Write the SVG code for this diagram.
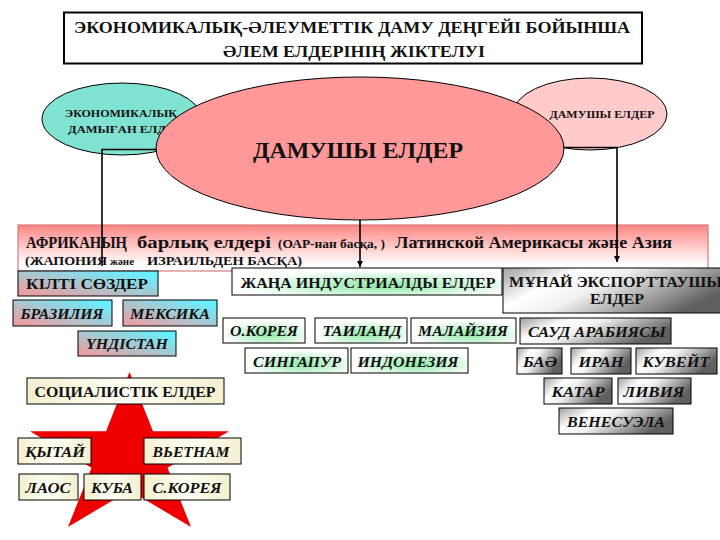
<svg xmlns="http://www.w3.org/2000/svg" width="720" height="540" viewBox="0 0 720 540" font-family="'Liberation Serif', 'Times New Roman', 'DejaVu Serif', serif">
<defs>
<style>
text{font-weight:bold;fill:#111}
.it{font-style:italic;font-size:15px}
.box{stroke:#000;stroke-width:1}
.pc{fill:url(#gPC)}
.gr{fill:url(#gGreen)}
.gy{fill:url(#gGray)}
.cr{fill:url(#gCream)}
.conn{fill:none;stroke:#000;stroke-width:1.6}
</style>
<linearGradient id="gAfr" x1="0" y1="0" x2="0" y2="1">
<stop offset="0" stop-color="#ff8585"/><stop offset="0.85" stop-color="#ffffff"/>
</linearGradient>
<linearGradient id="gPC" x1="0" y1="1" x2="1" y2="0">
<stop offset="0.1" stop-color="#e8a0a4"/><stop offset="0.9" stop-color="#66f0ff"/>
</linearGradient>
<radialGradient id="gGreen" cx="0.55" cy="0.65" r="0.55">
<stop offset="0" stop-color="#8ee8a8"/><stop offset="1" stop-color="#ffffff"/>
</radialGradient>
<linearGradient id="gGray" x1="0" y1="0" x2="1" y2="0.4">
<stop offset="0" stop-color="#a0a0a0"/><stop offset="0.3" stop-color="#ffffff"/><stop offset="0.5" stop-color="#f0f0f0"/><stop offset="1" stop-color="#606060"/>
</linearGradient>
<linearGradient id="gCream" x1="0" y1="0" x2="1" y2="0">
<stop offset="0" stop-color="#f3efcf"/><stop offset="0.5" stop-color="#fffff4"/><stop offset="1" stop-color="#f3efcf"/>
</linearGradient>
<marker id="arr" viewBox="0 0 10 10" refX="10" refY="5" markerWidth="4" markerHeight="4" orient="auto">
<path d="M0,0 L10,5 L0,10 z" fill="#000"/>
</marker>
</defs>
<rect width="720" height="540" fill="#fff"/>

<g id="title">
<rect x="64" y="12.5" width="578" height="51" fill="#fff" stroke="#000" stroke-width="2"/>
<text x="352" y="33" font-size="16" text-anchor="middle" textLength="556" lengthAdjust="spacingAndGlyphs">ЭКОНОМИКАЛЫҚ-ӘЛЕУМЕТТІК ДАМУ ДЕҢГЕЙІ БОЙЫНША</text>
<text x="354" y="57" font-size="16" text-anchor="middle" textLength="262" lengthAdjust="spacingAndGlyphs">ӘЛЕМ ЕЛДЕРІНІҢ ЖІКТЕЛУІ</text>
</g>

<g id="developed">
<ellipse cx="122" cy="119" rx="80" ry="36" fill="#80e2d0" stroke="#000" stroke-width="1"/>
<text x="121" y="117" font-size="11" text-anchor="middle" textLength="112" lengthAdjust="spacingAndGlyphs">ЭКОНОМИКАЛЫҚ</text>
<text x="125" y="133" font-size="11" text-anchor="middle" textLength="114" lengthAdjust="spacingAndGlyphs">ДАМЫҒАН ЕЛДЕР</text>
</g>

<g id="developing-small">
<ellipse cx="590" cy="114" rx="77" ry="36" fill="#ffcaca" stroke="#000" stroke-width="1"/>
<text x="602" y="118" font-size="11" text-anchor="middle" textLength="105" lengthAdjust="spacingAndGlyphs">ДАМУШЫ ЕЛДЕР</text>
</g>

<g id="developing">
<ellipse cx="360" cy="148.5" rx="204" ry="71.5" fill="#ff9898" stroke="#000" stroke-width="1"/>
<text x="358" y="158" font-size="24" text-anchor="middle" textLength="210" lengthAdjust="spacingAndGlyphs">ДАМУШЫ ЕЛДЕР</text>
</g>

<g id="africa">
<rect x="18" y="225" width="690" height="46" fill="url(#gAfr)" stroke="#d06464" stroke-width="1"/>
<text x="26" y="248" font-size="17" textLength="101" lengthAdjust="spacingAndGlyphs">АФРИКАНЫҢ</text>
<text x="137" y="248" font-size="16" textLength="134" lengthAdjust="spacingAndGlyphs">барлық елдері</text>
<text x="278" y="248" font-size="12" textLength="107" lengthAdjust="spacingAndGlyphs">(ОАР-нан басқа, )</text>
<text x="395" y="248" font-size="17" textLength="277" lengthAdjust="spacingAndGlyphs">Латинской Америкасы және Азия</text>
<text x="25" y="265" font-size="12" textLength="82" lengthAdjust="spacingAndGlyphs">(ЖАПОНИЯ</text>
<text x="110" y="265" font-size="10" textLength="24" lengthAdjust="spacingAndGlyphs">және</text>
<text x="147" y="265" font-size="12" textLength="155" lengthAdjust="spacingAndGlyphs">ИЗРАИЛЬДЕН БАСҚА)</text>
</g>

<g id="keywords">
<rect class="box pc" x="18" y="271" width="140" height="25"/>
<text x="87" y="289" font-size="15" text-anchor="middle" textLength="122" lengthAdjust="spacingAndGlyphs">КІЛТІ СӨЗДЕР</text>
</g>
<g id="brazil">
<rect class="box pc" x="13" y="300" width="99" height="26"/>
<text class="it" x="62" y="319" text-anchor="middle" textLength="83" lengthAdjust="spacingAndGlyphs">БРАЗИЛИЯ</text>
</g>
<g id="mexico">
<rect class="box pc" x="123" y="300" width="94" height="26"/>
<text class="it" x="170" y="319" text-anchor="middle" textLength="80" lengthAdjust="spacingAndGlyphs">МЕКСИКА</text>
</g>
<g id="india">
<rect class="box pc" x="78" y="331" width="98" height="25"/>
<text class="it" x="127" y="349" text-anchor="middle" textLength="82" lengthAdjust="spacingAndGlyphs">ҮНДІСТАН</text>
</g>

<g id="nic">
<rect class="box gr" x="232" y="268" width="270" height="27"/>
<text x="368" y="288" font-size="14" text-anchor="middle" textLength="255" lengthAdjust="spacingAndGlyphs">ЖАҢА ИНДУСТРИАЛДЫ ЕЛДЕР</text>
</g>
<g id="skorea">
<rect class="box gr" x="223" y="318" width="82" height="25"/>
<text class="it" x="264" y="336" text-anchor="middle" textLength="68" lengthAdjust="spacingAndGlyphs">О.КОРЕЯ</text>
</g>
<g id="thailand">
<rect class="box gr" x="315" y="318" width="92" height="25"/>
<text class="it" x="362" y="336" text-anchor="middle" textLength="79" lengthAdjust="spacingAndGlyphs">ТАИЛАНД</text>
</g>
<g id="malaysia">
<rect class="box gr" x="411" y="318" width="105" height="25"/>
<text class="it" x="463" y="336" text-anchor="middle" textLength="90" lengthAdjust="spacingAndGlyphs">МАЛАЙЗИЯ</text>
</g>
<g id="singapore">
<rect class="box gr" x="245" y="348" width="103" height="25"/>
<text class="it" x="297" y="367" text-anchor="middle" textLength="88" lengthAdjust="spacingAndGlyphs">СИНГАПУР</text>
</g>
<g id="indonesia">
<rect class="box gr" x="351" y="348" width="117" height="25"/>
<text class="it" x="408" y="367" text-anchor="middle" textLength="101" lengthAdjust="spacingAndGlyphs">ИНДОНЕЗИЯ</text>
</g>

<g id="oil">
<rect class="box gy" x="503" y="268" width="230" height="45"/>
<text x="509" y="287" font-size="14" textLength="213" lengthAdjust="spacingAndGlyphs">МҰНАЙ ЭКСПОРТТАУШЫ</text>
<text x="617" y="304" font-size="14" text-anchor="middle" textLength="54" lengthAdjust="spacingAndGlyphs">ЕЛДЕР</text>
</g>
<g id="saudi">
<rect class="box gy" x="520" y="318" width="151" height="26"/>
<text class="it" x="597" y="337" text-anchor="middle" textLength="138" lengthAdjust="spacingAndGlyphs">САУД АРАБИЯСЫ</text>
</g>
<g id="uae">
<rect class="box gy" x="517" y="348" width="45" height="26"/>
<text class="it" x="540" y="367" text-anchor="middle" textLength="34" lengthAdjust="spacingAndGlyphs">БАӘ</text>
</g>
<g id="iran">
<rect class="box gy" x="571" y="348" width="60" height="26"/>
<text class="it" x="601" y="367" text-anchor="middle" textLength="45" lengthAdjust="spacingAndGlyphs">ИРАН</text>
</g>
<g id="kuwait">
<rect class="box gy" x="636" y="348" width="81" height="26"/>
<text class="it" x="676" y="367" text-anchor="middle" textLength="67" lengthAdjust="spacingAndGlyphs">КУВЕЙТ</text>
</g>
<g id="qatar">
<rect class="box gy" x="544" y="378" width="68" height="26"/>
<text class="it" x="578" y="397" text-anchor="middle" textLength="53" lengthAdjust="spacingAndGlyphs">КАТАР</text>
</g>
<g id="libya">
<rect class="box gy" x="618" y="378" width="73" height="26"/>
<text class="it" x="654" y="397" text-anchor="middle" textLength="61" lengthAdjust="spacingAndGlyphs">ЛИВИЯ</text>
</g>
<g id="venezuela">
<rect class="box gy" x="559" y="408" width="114" height="26"/>
<text class="it" x="616" y="427" text-anchor="middle" textLength="98" lengthAdjust="spacingAndGlyphs">ВЕНЕСУЭЛА</text>
</g>

<polygon id="star" points="129.5,372 153,431.2 229,431.2 167.5,467.8 191,527 129.5,490.4 68,527 91.5,467.8 30,431.2 106,431.2" fill="#ee0000"/>

<g id="socialist">
<rect class="box cr" x="27" y="378" width="197" height="26"/>
<text x="125" y="397" font-size="15" text-anchor="middle" textLength="181" lengthAdjust="spacingAndGlyphs">СОЦИАЛИСТІК ЕЛДЕР</text>
</g>
<g id="china">
<rect class="box cr" x="18" y="438" width="73" height="26"/>
<text class="it" x="55" y="457" text-anchor="middle" textLength="60" lengthAdjust="spacingAndGlyphs">ҚЫТАЙ</text>
</g>
<g id="vietnam">
<rect class="box cr" x="144" y="438" width="97" height="26"/>
<text class="it" x="191" y="457" text-anchor="middle" textLength="77" lengthAdjust="spacingAndGlyphs">ВЬЕТНАМ</text>
</g>
<g id="laos">
<rect class="box cr" x="19" y="474" width="59" height="26"/>
<text class="it" x="48" y="493" text-anchor="middle" textLength="45" lengthAdjust="spacingAndGlyphs">ЛАОС</text>
</g>
<g id="cuba">
<rect class="box cr" x="84" y="474" width="57" height="26"/>
<text class="it" x="112" y="493" text-anchor="middle" textLength="42" lengthAdjust="spacingAndGlyphs">КУБА</text>
</g>
<g id="nkorea">
<rect class="box cr" x="144" y="474" width="86" height="26"/>
<text class="it" x="187" y="493" text-anchor="middle" textLength="69" lengthAdjust="spacingAndGlyphs">С.КОРЕЯ</text>
</g>

<g id="connectors">
<polyline class="conn" points="157,149.5 102,149.5 102,266"/>
<polyline class="conn" points="563,147.5 617,147.5 617,262" marker-end="url(#arr)"/>
<line class="conn" x1="360" y1="220" x2="360" y2="267" marker-end="url(#arr)"/>
</g>
</svg>
